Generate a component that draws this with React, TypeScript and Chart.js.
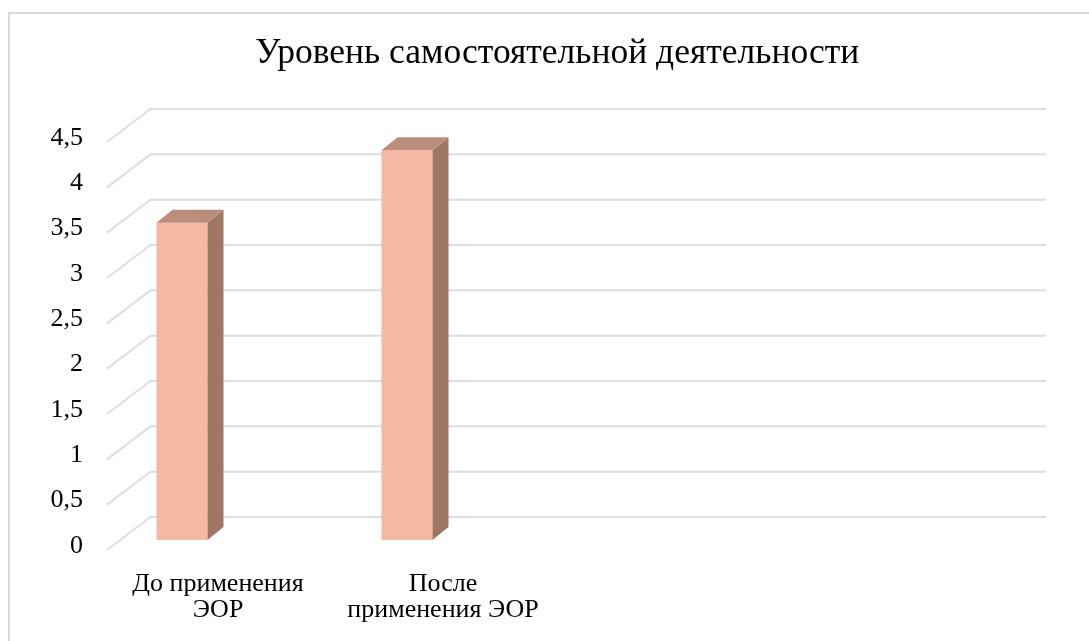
import React, { useEffect, useRef } from "react";
import { Chart, registerables } from "chart.js";

Chart.register(...registerables);

const chartTitle = "Уровень самостоятельной деятельности";
const categories: (string | string[])[] = [
  ["До применения", "ЭОР"],
  ["После", "применения ЭОР"],
  "",
  "",
];
const series1: (number | null)[] = [3.5, 4.3, null, null];
const series2: (number | null)[] = [null, null, null, null];
const series3: (number | null)[] = [null, null, null, null];
const yTickLabels = ["0", "0,5", "1", "1,5", "2", "2,5", "3", "3,5", "4", "4,5"];

const FONT = "'Liberation Serif', 'Times New Roman', serif";

const threeD = {
  id: "threeD",
  afterLayout(chart: any) {
    // centre the title over the whole plot box, as in the reference
    if (chart.titleBlock) chart.titleBlock.left = 94;
  },
  beforeDraw(chart: any) {
    const { ctx, width, height } = chart;
    ctx.save();
    ctx.fillStyle = "#ffffff";
    ctx.fillRect(0, 0, width, height);
    ctx.strokeStyle = "#d9d9d9";
    ctx.lineWidth = 2;
    ctx.strokeRect(9, 13, width + 100, height + 100);
    ctx.restore();
  },
  beforeDatasetsDraw(chart: any) {
    const { ctx } = chart;
    const y = chart.scales.y;
    const area = chart.chartArea;
    const backDx = 30, backDy = -23, frontDx = -13.5, frontDy = 10;
    ctx.save();
    ctx.strokeStyle = "#dedede";
    ctx.lineWidth = 2;
    y.ticks.forEach((t: any) => {
      const py = y.getPixelForValue(t.value);
      ctx.beginPath();
      ctx.moveTo(area.left + frontDx, py + frontDy);
      ctx.lineTo(area.left + backDx, py + backDy);
      ctx.lineTo(1046, py + backDy);
      ctx.stroke();
    });
    ctx.restore();
  },
  afterDatasetsDraw(chart: any) {
    const { ctx } = chart;
    const dx = 16, dy = -13;
    ctx.save();
    chart.data.datasets.forEach((ds: any, di: number) => {
      const meta = chart.getDatasetMeta(di);
      meta.data.forEach((bar: any, i: number) => {
        if (ds.data[i] == null) return;
        const { x, y, base, width } = bar.getProps(["x", "y", "base", "width"], true);
        const l = x - width / 2, r = x + width / 2;
        ctx.fillStyle = "#9f7767";
        ctx.beginPath();
        ctx.moveTo(r, y);
        ctx.lineTo(r + dx, y + dy);
        ctx.lineTo(r + dx, base + dy);
        ctx.lineTo(r, base);
        ctx.closePath();
        ctx.fill();
        ctx.fillStyle = "#bb8d7b";
        ctx.beginPath();
        ctx.moveTo(l, y);
        ctx.lineTo(l + dx, y + dy);
        ctx.lineTo(r + dx, y + dy);
        ctx.lineTo(r, y);
        ctx.closePath();
        ctx.fill();
      });
    });
    ctx.restore();
  },
};

export default function App() {
  const ref = useRef<HTMLCanvasElement>(null);
  useEffect(() => {
    if (!ref.current) return;
    const chart = new Chart(ref.current, {
      type: "bar",
      data: {
        labels: categories,
        datasets: [
          { label: "Ряд 1", data: series1, backgroundColor: "#f5b9a3", borderWidth: 0 },
          { label: "Ряд 2", data: series2, backgroundColor: "#f5b9a3", borderWidth: 0 },
          { label: "Ряд 3", data: series3, backgroundColor: "#f5b9a3", borderWidth: 0 },
        ],
      },
      options: {
        responsive: false,
        animation: false,
        devicePixelRatio: 1,
        layout: { padding: { left: 0, right: 68.5, top: 0, bottom: 0 } },
        datasets: { bar: { categoryPercentage: 0.68, barPercentage: 1 } },
        plugins: {
          legend: { display: false },
          tooltip: { enabled: false },
          title: {
            display: true,
            text: chartTitle,
            color: "#000",
            font: { family: FONT, size: 35.5, weight: "normal", lineHeight: 1.2 },
            padding: { top: 32, bottom: 57.4 },
          },
        },
        scales: {
          x: {
            grid: { display: false, drawTicks: false },
            border: { display: false },
            ticks: {
              color: "#000",
              font: { family: FONT, size: 26, lineHeight: 0.97 },
              padding: 32,
              labelOffset: -15,
              autoSkip: false,
              maxRotation: 0,
              minRotation: 0,
            },
            afterFit: (s: any) => { s.height = 101; },
          },
          y: {
            min: 0,
            max: 4.5,
            grid: { display: false, drawTicks: false },
            border: { display: false },
            ticks: {
              stepSize: 0.5,
              color: "#000",
              font: { family: FONT, size: 26 },
              padding: 37.5,
              labelOffset: 6,
              callback: (v: any, i: number) => yTickLabels[i] ?? String(v).replace(".", ","),
            },
            afterFit: (s: any) => { s.width = 120.5; },
          },
        },
      },
      plugins: [threeD],
    } as any);
    return () => chart.destroy();
  }, []);
  return (
    <canvas
      ref={ref}
      width={1089}
      height={641}
      style={{ position: "fixed", left: 0, top: 0, width: 1089, height: 641 }}
    />
  );
}
